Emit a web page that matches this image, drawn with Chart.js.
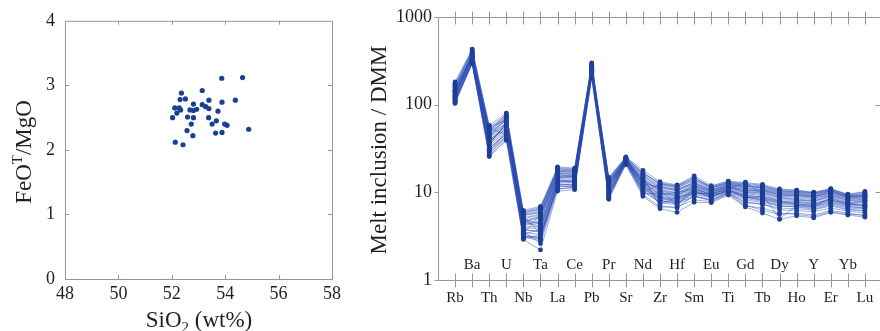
<!DOCTYPE html>
<html lang="en">
<head>
<meta charset="UTF-8">
<title>Melt inclusions: FeOT/MgO and DMM-normalised spider diagram</title>
<script src="https://cdn.jsdelivr.net/npm/chart.js"></script>
<style>
  html, body { margin: 0; padding: 0; background: #fff; overflow: hidden; width: 880px; height: 331px; }
  #left { position: absolute; left: 0; top: 0; }
  #right { position: absolute; left: 345px; top: 0; }
</style>
</head>
<body>
<canvas id="left" width="345" height="331"></canvas>
<canvas id="right" width="545" height="331"></canvas>
<script>
// --- left panel: FeOT/MgO vs SiO2 ---
const sio2 = [53.87, 54.65, 52.36, 53.14, 52.31, 52.51, 53.39, 53.88, 54.38, 52.81, 53.14, 53.27, 53.39,
              52.11, 52.28, 52.33, 52.19, 52.68, 52.81, 52.93, 53.73, 52.03, 52.59, 52.81, 53.38, 53.67,
              53.51, 52.73, 53.98, 54.07, 54.88, 52.57, 52.79, 53.64, 53.88, 52.13, 52.42];
const feoMgo = [3.11, 3.12, 2.88, 2.92, 2.78, 2.79, 2.77, 2.74, 2.77, 2.71, 2.70, 2.67, 2.64,
                2.65, 2.65, 2.62, 2.57, 2.62, 2.61, 2.63, 2.60, 2.50, 2.51, 2.50, 2.50, 2.45,
                2.40, 2.40, 2.40, 2.38, 2.32, 2.30, 2.22, 2.26, 2.27, 2.12, 2.08];
const xTicksLeft = [48, 50, 52, 54, 56, 58];
const yTicksLeft = [0, 1, 2, 3, 4];

// --- right panel: melt inclusion / DMM ---
const elements = ['Rb', 'Ba', 'Th', 'U', 'Nb', 'Ta', 'La', 'Ce', 'Pb', 'Pr', 'Sr', 'Nd', 'Zr',
                  'Hf', 'Sm', 'Eu', 'Ti', 'Gd', 'Tb', 'Dy', 'Ho', 'Y', 'Er', 'Yb', 'Lu'];
const yTicksRight = [1, 10, 100, 1000];
// one row per melt inclusion, same order as elements
const samples = [
  [181, 429, 58, 80, 6.2, 6.9, 19.5, 18.8, 298, 14.8, 25.3, 17.8, 13.2, 12.1, 15.4, 11.9, 13.4, 12.9, 12.3, 10.9, 10.6, 10.0, 11.0, 9.5, 10.2],
  [103, 292, 25.5, 39, 2.9, 2.2, 10.3, 10.7, 202, 8.3, 20.6, 9.0, 6.5, 5.9, 7.7, 7.6, 9.3, 6.8, 5.8, 4.9, 5.4, 5.1, 5.9, 5.5, 5.2],
  [170, 410, 55, 76, 5.9, 6.5, 18.6, 18.0, 285, 14.2, 24.8, 16.5, 12.6, 11.6, 14.2, 11.5, 13.0, 12.3, 11.8, 10.5, 10.2, 9.7, 10.8, 9.3, 9.8],
  [160, 395, 52, 73, 5.6, 6.2, 18.0, 17.3, 276, 13.6, 24.4, 15.8, 12.0, 11.2, 13.5, 11.1, 12.7, 11.9, 11.2, 10.0, 9.9, 9.4, 10.5, 9.0, 9.3],
  [155, 380, 50, 70, 5.4, 5.9, 17.4, 16.8, 270, 13.2, 24.0, 15.2, 11.6, 10.7, 13.0, 10.8, 12.4, 11.4, 10.8, 9.7, 9.6, 9.1, 10.2, 8.8, 9.0],
  [148, 360, 47, 66, 5.0, 5.5, 16.8, 16.4, 262, 12.8, 23.8, 14.6, 11.0, 10.4, 12.6, 10.5, 12.0, 11.0, 10.4, 9.4, 9.2, 8.8, 9.8, 8.6, 8.7],
  [142, 370, 45, 68, 4.8, 5.2, 16.2, 15.9, 258, 12.5, 23.5, 14.0, 10.6, 10.0, 12.0, 10.2, 11.8, 10.6, 10.0, 9.0, 8.9, 8.5, 9.6, 8.3, 8.4],
  [138, 350, 43, 62, 4.6, 5.0, 15.8, 15.5, 252, 12.2, 23.6, 13.6, 10.2, 9.6, 11.6, 10.0, 11.6, 10.3, 9.7, 8.7, 8.6, 8.2, 9.3, 8.0, 8.1],
  [135, 340, 41, 60, 4.4, 4.7, 15.3, 15.0, 248, 11.9, 23.2, 13.2, 9.9, 9.3, 11.3, 9.8, 11.3, 10.0, 9.4, 8.4, 8.4, 8.0, 9.0, 7.8, 7.9],
  [130, 335, 39, 58, 4.2, 4.4, 14.8, 14.6, 244, 11.6, 23.0, 12.8, 9.6, 9.0, 11.0, 9.6, 11.1, 9.7, 9.1, 8.2, 8.1, 7.8, 8.8, 7.6, 7.7],
  [126, 325, 37, 56, 4.0, 4.1, 14.3, 14.2, 240, 11.2, 22.8, 12.4, 9.3, 8.8, 10.7, 9.4, 10.9, 9.4, 8.8, 7.9, 7.9, 7.5, 8.5, 7.4, 7.4],
  [122, 318, 35, 54, 3.9, 3.9, 13.8, 13.7, 236, 10.9, 22.5, 12.0, 9.0, 8.5, 10.4, 9.2, 10.7, 9.1, 8.5, 7.7, 7.6, 7.3, 8.3, 7.2, 7.2],
  [118, 310, 33, 52, 3.7, 3.6, 13.3, 13.3, 232, 10.6, 22.3, 11.6, 8.7, 8.2, 10.1, 9.0, 10.4, 8.8, 8.2, 7.4, 7.4, 7.0, 8.0, 7.0, 7.0],
  [114, 302, 31, 50, 3.5, 3.3, 12.8, 12.9, 226, 10.2, 22.0, 11.2, 8.4, 7.9, 9.8, 8.8, 10.2, 8.5, 7.9, 7.2, 7.1, 6.8, 7.7, 6.8, 6.7],
  [110, 298, 29, 47, 3.3, 3.0, 12.2, 12.4, 220, 9.8, 21.7, 10.8, 8.1, 7.6, 9.5, 8.6, 10.0, 8.2, 7.6, 6.9, 6.9, 6.6, 7.4, 6.6, 6.5],
  [107, 295, 27, 44, 3.1, 2.8, 11.5, 11.8, 212, 9.3, 21.3, 10.2, 7.6, 7.2, 9.0, 8.3, 9.7, 7.8, 7.2, 6.6, 6.5, 6.3, 7.0, 6.3, 6.1],
  [175, 400, 36, 60, 3.2, 2.9, 12.0, 12.2, 270, 10.0, 24.5, 12.5, 11.5, 10.8, 12.8, 10.6, 12.1, 11.8, 11.6, 10.2, 10.3, 9.8, 10.6, 9.2, 9.6],
  [112, 305, 54, 45, 6.0, 6.7, 17.5, 17.6, 215, 13.8, 21.5, 14.8, 7.0, 6.6, 9.2, 8.0, 9.8, 7.2, 6.2, 5.6, 5.8, 5.5, 6.2, 5.8, 5.4],
  [150, 345, 28, 42, 4.7, 4.0, 14.0, 13.0, 275, 9.0, 23.8, 10.0, 12.4, 11.8, 14.5, 11.6, 13.2, 12.6, 12.0, 10.7, 10.5, 9.9, 10.9, 9.4, 10.0],
  [120, 380, 48, 75, 3.4, 5.6, 15.0, 15.8, 250, 12.0, 22.0, 13.0, 8.0, 7.4, 10.0, 9.0, 10.5, 9.0, 8.0, 7.0, 6.8, 6.4, 7.2, 6.4, 6.2],
  [140, 315, 34, 64, 5.3, 3.4, 11.0, 11.2, 230, 8.6, 22.4, 9.6, 9.8, 9.2, 11.8, 10.4, 11.5, 10.8, 10.2, 9.2, 9.4, 9.0, 9.9, 8.9, 9.2],
  [128, 360, 40, 52, 4.3, 4.6, 16.0, 14.8, 260, 11.4, 24.0, 13.4, 10.8, 7.0, 11.4, 9.3, 11.0, 13.0, 9.5, 5.0, 7.0, 6.9, 8.6, 7.5, 6.9],
  [165, 330, 30, 48, 3.8, 3.5, 13.0, 14.0, 240, 11.8, 23.3, 12.2, 7.3, 8.8, 9.7, 9.7, 10.8, 8.6, 9.0, 8.0, 7.3, 7.2, 8.0, 7.3, 8.0],
  [105, 310, 42, 70, 3.6, 2.6, 10.8, 11.5, 205, 8.8, 21.0, 9.4, 6.8, 6.8, 8.2, 7.8, 9.5, 7.0, 6.6, 5.8, 5.6, 5.3, 6.0, 5.6, 5.5],
  [145, 390, 50, 78, 5.5, 6.0, 18.2, 17.8, 290, 14.5, 25.0, 16.2, 12.8, 11.9, 14.8, 11.2, 12.9, 12.1, 11.0, 9.9, 9.8, 9.2, 10.3, 8.9, 9.4],
  [132, 300, 26, 40, 3.0, 3.1, 12.5, 12.0, 225, 9.6, 22.1, 11.0, 8.5, 8.0, 10.2, 8.9, 10.3, 8.8, 8.3, 7.6, 7.2, 6.9, 7.6, 6.9, 6.6],
  [116, 350, 38, 58, 4.9, 4.3, 14.6, 15.2, 255, 12.4, 23.0, 12.9, 9.4, 9.9, 10.9, 9.5, 11.7, 9.9, 9.8, 8.8, 8.2, 7.9, 9.2, 8.1, 8.3],
  [158, 420, 56, 66, 5.8, 6.4, 19.0, 18.4, 280, 14.0, 24.6, 17.0, 12.2, 11.4, 13.8, 11.4, 12.6, 11.6, 11.4, 10.4, 10.0, 9.6, 10.4, 9.1, 9.0],
  [124, 328, 32, 46, 3.3, 3.8, 13.5, 13.0, 238, 10.4, 22.6, 11.8, 8.8, 8.4, 10.5, 9.1, 10.6, 9.3, 8.6, 7.8, 7.7, 7.4, 8.2, 7.3, 7.1],
  [136, 345, 44, 62, 4.5, 5.4, 16.5, 16.1, 265, 12.9, 23.9, 14.3, 10.4, 9.8, 11.9, 10.1, 11.4, 10.2, 10.6, 9.3, 9.1, 8.6, 9.4, 8.4, 8.6],
  [110, 300, 30, 43, 3.1, 3.2, 11.8, 11.6, 210, 9.1, 21.4, 10.4, 7.8, 7.7, 8.9, 8.1, 9.9, 7.6, 7.4, 6.3, 6.2, 6.0, 6.6, 6.1, 5.8],
  [146, 372, 46, 71, 5.1, 5.7, 17.2, 16.9, 268, 13.4, 24.2, 15.4, 11.2, 10.6, 12.4, 10.6, 12.2, 11.2, 10.6, 9.6, 9.4, 8.9, 10.0, 8.7, 8.8]
];

const serif = "'Liberation Serif', 'Times New Roman', serif";
const textColor = '#231f20';
const axisColor = '#9b9691';
const dotColor = '#1c3f96';

// draws text made of pieces, some of them sub- or superscript, centred on (x, y)
function drawRich(ctx, parts, x, y, size, rotate) {
  ctx.save();
  ctx.translate(x, y);
  if (rotate) ctx.rotate(-Math.PI / 2);
  ctx.fillStyle = textColor;
  ctx.textBaseline = 'alphabetic';
  let total = 0;
  parts.forEach(p => {
    ctx.font = (p.sub || p.sup ? size * 0.65 : size) + 'px ' + serif;
    p.w = ctx.measureText(p.t).width;
    total += p.w;
  });
  let cx = -total / 2;
  const base = size * 0.33;
  parts.forEach(p => {
    ctx.font = (p.sub || p.sup ? size * 0.65 : size) + 'px ' + serif;
    let dy = 0;
    if (p.sub) dy = size * 0.22;
    if (p.sup) dy = -size * 0.38;
    ctx.fillText(p.t, cx, base + dy);
    cx += p.w;
  });
  ctx.restore();
}

const leftFrame = {
  id: 'leftFrame',
  afterDraw(chart) {
    const ctx = chart.ctx;
    const a = chart.chartArea;
    const xs = chart.scales.x, ys = chart.scales.y;
    ctx.save();
    ctx.strokeStyle = axisColor;
    ctx.lineWidth = 1;
    ctx.strokeRect(a.left + 0.5, a.top + 0.5, a.right - a.left, a.bottom - a.top);
    ctx.beginPath();
    xTicksLeft.slice(1, -1).forEach(v => {
      const px = Math.round(xs.getPixelForValue(v)) + 0.5;
      ctx.moveTo(px, a.bottom); ctx.lineTo(px, a.bottom - 4);
      ctx.moveTo(px, a.top); ctx.lineTo(px, a.top + 4);
    });
    yTicksLeft.slice(1, -1).forEach(v => {
      const py = Math.round(ys.getPixelForValue(v)) + 0.5;
      ctx.moveTo(a.left, py); ctx.lineTo(a.left + 4, py);
      ctx.moveTo(a.right, py); ctx.lineTo(a.right - 4, py);
    });
    ctx.stroke();
    ctx.restore();
    drawRich(ctx, [{ t: 'SiO' }, { t: '2', sub: true }, { t: ' (wt%)' }], 199, 319, 23, false);
    drawRich(ctx, [{ t: 'FeO' }, { t: 'T', sup: true }, { t: '/MgO' }], 23, 152, 23, true);
  }
};

new Chart(document.getElementById('left'), {
  type: 'scatter',
  data: {
    datasets: [{
      data: sio2.map((x, i) => ({ x: x, y: feoMgo[i] })),
      pointRadius: 2.6,
      pointBackgroundColor: dotColor,
      pointBorderWidth: 0
    }]
  },
  options: {
    responsive: false,
    animation: false,
    layout: { padding: { top: 14, right: 13, left: 0, bottom: 0 } },
    plugins: { legend: { display: false }, tooltip: { enabled: false } },
    scales: {
      x: {
        type: 'linear', min: 48, max: 58,
        grid: { display: false, drawTicks: false }, border: { display: false },
        afterBuildTicks: s => { s.ticks = xTicksLeft.map(v => ({ value: v })); },
        ticks: { padding: 4, maxRotation: 0, font: { family: serif, size: 18 }, color: textColor },
        afterFit: s => { s.height = 52; }
      },
      y: {
        type: 'linear', min: 0, max: 4,
        grid: { display: false, drawTicks: false }, border: { display: false },
        afterBuildTicks: s => { s.ticks = yTicksLeft.map(v => ({ value: v })); },
        ticks: { padding: 10, font: { family: serif, size: 18 }, color: textColor },
        afterFit: s => { s.width = 65; }
      }
    }
  },
  plugins: [leftFrame]
});

const rightFrame = {
  id: 'rightFrame',
  afterDraw(chart) {
    const ctx = chart.ctx;
    const a = chart.chartArea;
    const xs = chart.scales.x, ys = chart.scales.y;
    ctx.save();
    ctx.strokeStyle = axisColor;
    ctx.lineWidth = 1;
    ctx.beginPath();
    const top = Math.round(a.top) + 0.5, bot = Math.round(a.bottom) + 0.5;
    const left = Math.round(a.left) + 0.5, right = Math.round(a.right) + 0.5;
    ctx.moveTo(left, top); ctx.lineTo(right, top);
    ctx.moveTo(left, bot); ctx.lineTo(right, bot);
    ctx.moveTo(left, top); ctx.lineTo(left, bot);
    ctx.moveTo(right, top); ctx.lineTo(right, bot);
    elements.forEach((el, i) => {
      const px = Math.round(xs.getPixelForValue(i)) + 0.5;
      ctx.moveTo(px, top - 6); ctx.lineTo(px, top + 7);
      ctx.moveTo(px, bot - 7); ctx.lineTo(px, bot + 7);
    });
    yTicksRight.forEach(v => {
      const py = Math.round(ys.getPixelForValue(v)) + 0.5;
      ctx.moveTo(left - 4, py); ctx.lineTo(left, py);
      ctx.moveTo(right, py); ctx.lineTo(right - 7, py);
    });
    ctx.stroke();
    ctx.restore();

    ctx.save();
    ctx.fillStyle = textColor;
    ctx.font = '15px ' + serif;
    ctx.textAlign = 'center';
    ctx.textBaseline = 'middle';
    elements.forEach((el, i) => {
      const px = xs.getPixelForValue(i);
      ctx.fillText(el, px, i % 2 === 0 ? a.bottom + 18 : a.bottom - 15);
    });
    ctx.restore();
    drawRich(ctx, [{ t: 'Melt inclusion / DMM' }], 33, 150, 23, true);
  }
};

new Chart(document.getElementById('right'), {
  type: 'line',
  data: {
    datasets: samples.map(row => ({
      data: row.map((v, i) => ({ x: i, y: v })),
      borderColor: 'rgba(40, 72, 178, 0.65)',
      borderWidth: 0.7,
      pointRadius: 2.4,
      pointBackgroundColor: dotColor,
      pointBorderWidth: 0,
      tension: 0
    }))
  },
  options: {
    responsive: false,
    animation: false,
    layout: { padding: { top: 13, right: 8, left: 0, bottom: 0 } },
    plugins: { legend: { display: false }, tooltip: { enabled: false } },
    scales: {
      x: {
        type: 'linear', min: -1, max: 25,
        grid: { display: false, drawTicks: false }, border: { display: false },
        ticks: { display: false },
        afterFit: s => { s.height = 51; }
      },
      y: {
        type: 'logarithmic', min: 1, max: 1000,
        grid: { display: false, drawTicks: false }, border: { display: false },
        afterBuildTicks: s => { s.ticks = yTicksRight.map(v => ({ value: v })); },
        ticks: { padding: 6, callback: v => String(v), font: { family: serif, size: 18 }, color: textColor },
        afterFit: s => { s.width = 93; }
      }
    }
  },
  plugins: [rightFrame]
});
</script>
</body>
</html>
